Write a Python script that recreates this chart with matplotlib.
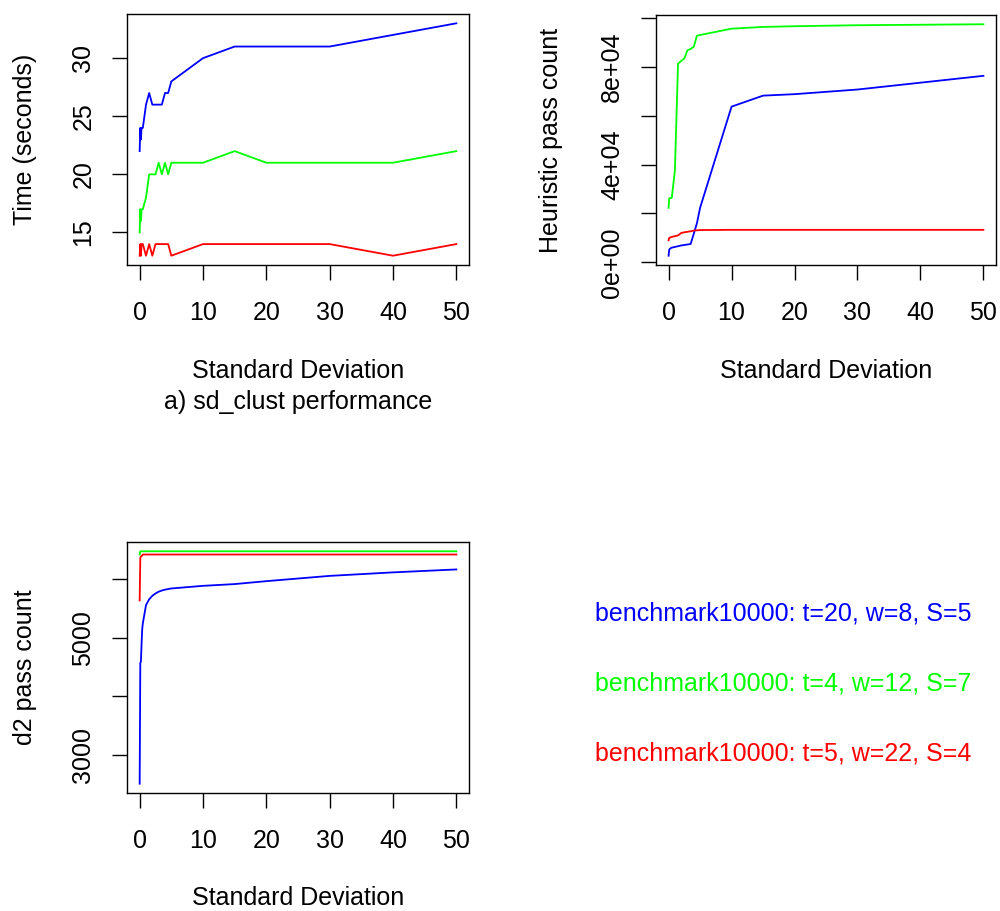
import matplotlib
matplotlib.use("Agg")
import matplotlib.pyplot as plt

plt.rcParams['font.family'] = ['Liberation Sans', 'DejaVu Sans']

sd = [0, 0.1, 0.2, 0.3, 0.4, 0.5, 1, 1.5, 2, 2.5, 3, 3.5, 4, 4.5, 5,
      10, 15, 20, 30, 40, 50]

time_blue = [22, 24, 23, 24, 24, 24, 26, 27, 26, 26, 26, 26, 27, 27, 28,
             30, 31, 31, 31, 32, 33]
time_green = [15, 17, 16, 17, 17, 17, 18, 20, 20, 20, 21, 20, 21, 20, 21,
              21, 22, 21, 21, 21, 22]
time_red = [13, 14, 13, 14, 14, 14, 13, 14, 13, 14, 14, 14, 14, 14, 13,
            14, 14, 14, 14, 13, 14]

heur_blue = [2700, 5200, 5500, 5700, 5900, 6000, 6300, 6600, 6900, 7100, 7300,
             7500, 11700, 16000, 22300, 63700, 68200, 68800, 70700, 73500, 76300]
heur_green = [22300, 26300, 26300, 26300, 26300, 26300, 37500, 81300, 82400,
              83400, 86800, 87300, 88200, 92700, 93000, 95600, 96300, 96600,
              97000, 97200, 97400]
heur_red = [9000, 10000, 10100, 10200, 10300, 10400, 10700, 11000, 12000, 12300,
            12500, 12700, 13000, 13100, 13200, 13300, 13300, 13300, 13300, 13300,
            13300]

d2_blue = [2510, 4570, 4600, 4900, 5150, 5250, 5560, 5660, 5720, 5760, 5790,
           5810, 5825, 5835, 5845, 5890, 5920, 5970, 6060, 6120, 6170]
d2_green = [6425, 6480, 6480, 6480, 6480, 6480, 6480, 6480, 6480, 6480, 6480,
            6480, 6480, 6480, 6480, 6480, 6480, 6480, 6480, 6480, 6480]
d2_red = [5640, 6370, 6390, 6400, 6410, 6425, 6425, 6425, 6425, 6425, 6425,
          6425, 6425, 6425, 6425, 6425, 6425, 6425, 6425, 6425, 6425]

x_ticks = [0, 10, 20, 30, 40, 50]
time_ticks = [15, 20, 25, 30]
time_labels = ["15", "20", "25", "30"]
heur_ticks = [0, 20000, 40000, 60000, 80000, 100000]
heur_labels = ["0e+00", "", "4e+04", "", "8e+04", ""]
d2_ticks = [3000, 4000, 5000, 6000]
d2_labels = ["3000", "", "5000", ""]

legend_texts = ["benchmark10000: t=20, w=8, S=5",
                "benchmark10000: t=4, w=12, S=7",
                "benchmark10000: t=5, w=22, S=4"]
colors = ["#0000ff", "#00ff00", "#ff0000"]

W, H = 1000, 911
fig = plt.figure(figsize=(W / 100, H / 100), dpi=100)

FS = 18
LW = 1.3


def make_ax(left, top, right, bottom):
    return fig.add_axes([left / W, 1 - bottom / H, (right - left) / W, (bottom - top) / H])


def style(ax, yticks, ylabels, ylabel, xlab_y, ylab_x):
    ax.margins(x=0.04, y=0.04)
    ax.set_xticks(x_ticks)
    ax.set_xticklabels([str(t) for t in x_ticks])
    ax.set_yticks(yticks)
    ax.set_yticklabels(ylabels)
    ax.tick_params(axis='both', direction='out', length=10.8, width=1.0,
                   labelsize=FS)
    ax.tick_params(axis='x', pad=15)
    ax.tick_params(axis='y', pad=12)
    for lab in ax.get_yticklabels():
        lab.set_rotation(90)
        lab.set_va('center')
    for s in ax.spines.values():
        s.set_linewidth(1.0)
    ax.set_xlabel("Standard Deviation", fontsize=FS)
    ax.xaxis.set_label_coords(0.5, xlab_y)
    ax.xaxis.label.set_va('center')
    ax.set_ylabel(ylabel, fontsize=FS)
    ax.yaxis.set_label_coords(ylab_x, 0.5)
    ax.yaxis.label.set_va('center')


# Panel a
ax1 = make_ax(127, 14, 469, 265)
for ys, c in zip([time_blue, time_green, time_red], colors):
    ax1.plot(sd, ys, color=c, lw=LW)
style(ax1, time_ticks, time_labels, "Time (seconds)", -0.422, -0.298)
ax1.text(0.5, -0.546, "a) sd_clust performance", transform=ax1.transAxes,
         ha='center', va='center', fontsize=FS)

# Panel b
ax2 = make_ax(656, 15, 996, 265)
for ys, c in zip([heur_blue, heur_green, heur_red], colors):
    ax2.plot(sd, ys, color=c, lw=LW)
style(ax2, heur_ticks, heur_labels, "Heuristic pass count", -0.422, -0.308)

# Panel c
ax3 = make_ax(127, 542, 469, 793)
for ys, c in zip([d2_blue, d2_green, d2_red], colors):
    ax3.plot(sd, ys, color=c, lw=LW)
style(ax3, d2_ticks, d2_labels, "d2 pass count", -0.418, -0.298)

# Legend panel
for txt, c, yc in zip(legend_texts, colors, [613, 683, 753]):
    fig.text(595 / W, 1 - yc / H, txt, color=c, fontsize=FS, ha='left', va='center')

fig.savefig("out.png", dpi=100)
